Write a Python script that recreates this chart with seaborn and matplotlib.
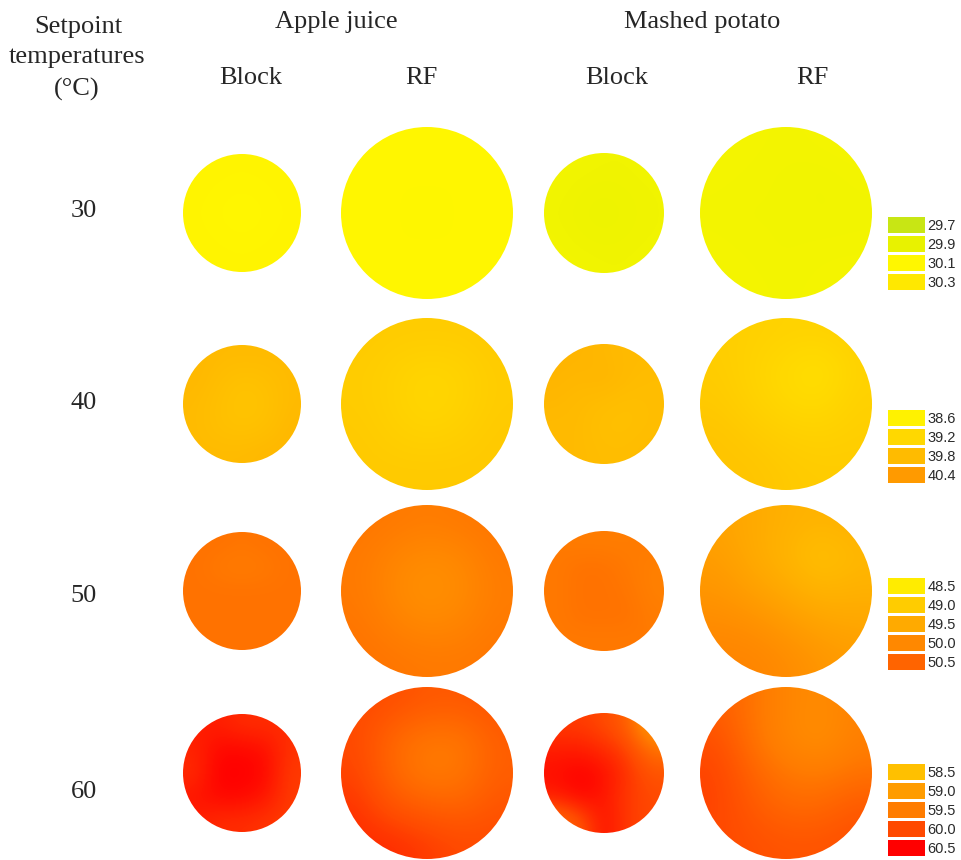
import numpy as np
import matplotlib
matplotlib.use("Agg")
import matplotlib.pyplot as plt
from matplotlib.colors import LinearSegmentedColormap
from matplotlib.patches import Circle
import seaborn as sns

# ---------------------------------------------------------------- data
setpoints = [30, 40, 50, 60]
products = ["Apple juice", "Mashed potato"]
methods = ["Block", "RF"]

# colour-bar steps (°C) for each setpoint
legend_30 = [29.7, 29.9, 30.1, 30.3]
legend_40 = [38.6, 39.2, 39.8, 40.4]
legend_50 = [48.5, 49.0, 49.5, 50.0, 50.5]
legend_60 = [58.5, 59.0, 59.5, 60.0, 60.5]

# coarse surface-temperature maps (°C), 5 x 5 samples, top row first
aj_block_30 = [[30.14, 30.14, 30.13, 30.14, 30.14],
               [30.14, 30.12, 30.11, 30.12, 30.14],
               [30.13, 30.11, 30.1, 30.11, 30.13],
               [30.14, 30.12, 30.11, 30.12, 30.14],
               [30.14, 30.14, 30.13, 30.14, 30.14]]
aj_rf_30 = [[30.11, 30.11, 30.11, 30.11, 30.11],
            [30.11, 30.1, 30.1, 30.1, 30.11],
            [30.11, 30.1, 30.1, 30.1, 30.11],
            [30.11, 30.1, 30.1, 30.1, 30.11],
            [30.11, 30.11, 30.11, 30.11, 30.11]]
mp_block_30 = [[29.99, 29.99, 29.98, 29.98, 29.99],
               [29.99, 29.97, 29.96, 29.97, 29.98],
               [29.98, 29.96, 29.95, 29.96, 29.98],
               [29.99, 29.97, 29.96, 29.97, 29.98],
               [29.99, 29.99, 29.98, 29.98, 29.99]]
mp_rf_30 = [[30.02, 30.01, 30.0, 30.01, 30.02],
            [30.01, 30.0, 29.99, 29.98, 30.0],
            [30.0, 29.99, 30.0, 29.98, 29.99],
            [30.01, 30.0, 29.99, 30.0, 30.0],
            [30.02, 30.01, 30.0, 30.01, 30.02]]

aj_block_40 = [[39.85, 39.8, 39.8, 39.8, 39.8],
               [39.85, 39.75, 39.65, 39.7, 39.8],
               [39.8, 39.7, 39.6, 39.65, 39.8],
               [39.8, 39.7, 39.65, 39.7, 39.85],
               [39.8, 39.8, 39.8, 39.85, 39.85]]
aj_rf_40 = [[39.5, 39.45, 39.45, 39.45, 39.5],
            [39.45, 39.35, 39.25, 39.3, 39.45],
            [39.45, 39.35, 39.2, 39.3, 39.45],
            [39.5, 39.4, 39.35, 39.4, 39.5],
            [39.5, 39.5, 39.5, 39.5, 39.5]]
mp_block_40 = [[39.9, 39.9, 39.85, 39.8, 39.8],
               [39.9, 39.85, 39.9, 39.8, 39.75],
               [39.85, 39.8, 39.75, 39.7, 39.75],
               [39.8, 39.8, 39.7, 39.7, 39.75],
               [39.8, 39.8, 39.75, 39.75, 39.8]]
mp_rf_40 = [[39.4, 39.35, 39.3, 39.3, 39.35],
            [39.45, 39.3, 39.15, 39.0, 39.3],
            [39.5, 39.35, 39.2, 39.15, 39.35],
            [39.6, 39.5, 39.4, 39.35, 39.4],
            [39.6, 39.6, 39.5, 39.45, 39.45]]

aj_block_50 = [[50.3, 50.3, 50.25, 50.3, 50.3],
               [50.3, 50.2, 50.15, 50.2, 50.3],
               [50.3, 50.3, 50.3, 50.3, 50.3],
               [50.3, 50.3, 50.3, 50.3, 50.3],
               [50.3, 50.3, 50.3, 50.3, 50.3]]
aj_rf_50 = [[50.25, 50.2, 50.15, 50.2, 50.25],
            [50.2, 50.05, 49.95, 50.0, 50.2],
            [50.2, 50.0, 49.85, 49.95, 50.15],
            [50.25, 50.1, 50.0, 50.05, 50.2],
            [50.3, 50.25, 50.2, 50.2, 50.25]]
mp_block_50 = [[50.2, 50.15, 50.15, 50.15, 50.2],
               [50.2, 50.3, 50.3, 50.2, 50.1],
               [50.2, 50.3, 50.3, 50.25, 50.1],
               [50.2, 50.3, 50.3, 50.3, 50.15],
               [50.2, 50.2, 50.2, 50.2, 50.2]]
mp_rf_50 = [[49.6, 49.5, 49.4, 49.35, 49.4],
            [49.7, 49.5, 49.35, 49.15, 49.3],
            [49.8, 49.65, 49.5, 49.35, 49.4],
            [49.95, 49.9, 49.75, 49.6, 49.55],
            [50.05, 50.05, 49.95, 49.8, 49.7]]

aj_block_60 = [[60.3, 60.3, 60.2, 60.2, 60.2],
               [60.25, 60.45, 60.45, 60.4, 60.15],
               [60.2, 60.5, 60.5, 60.45, 60.1],
               [60.35, 60.45, 60.45, 60.35, 60.1],
               [60.3, 60.2, 60.2, 60.15, 60.1]]
aj_rf_60 = [[60.0, 59.95, 59.85, 59.85, 59.9],
            [60.0, 59.7, 59.55, 59.55, 59.8],
            [60.05, 59.7, 59.5, 59.55, 59.8],
            [60.15, 59.9, 59.8, 59.75, 59.9],
            [60.2, 60.2, 60.1, 60.0, 60.0]]
mp_block_60 = [[60.1, 60.1, 60.0, 59.8, 59.0],
               [60.3, 60.3, 60.2, 60.05, 59.6],
               [60.4, 60.5, 60.4, 60.15, 59.9],
               [60.3, 60.45, 60.35, 60.1, 60.0],
               [59.6, 59.9, 60.4, 60.1, 60.0]]
mp_rf_60 = [[59.8, 59.6, 59.35, 59.25, 59.4],
            [59.95, 59.6, 59.35, 59.2, 59.45],
            [60.05, 59.75, 59.55, 59.5, 59.6],
            [60.05, 59.85, 59.7, 59.7, 59.85],
            [60.0, 59.95, 59.9, 59.9, 59.95]]

maps = {
    30: [aj_block_30, aj_rf_30, mp_block_30, mp_rf_30],
    40: [aj_block_40, aj_rf_40, mp_block_40, mp_rf_40],
    50: [aj_block_50, aj_rf_50, mp_block_50, mp_rf_50],
    60: [aj_block_60, aj_rf_60, mp_block_60, mp_rf_60],
}
legends = {30: legend_30, 40: legend_40, 50: legend_50, 60: legend_60}

# ---------------------------------------------------------------- style
palette = {
    30: ["#c8e614", "#e8f200", "#fff700", "#ffe800"],
    40: ["#fff200", "#ffd800", "#ffbb00", "#ff9a00"],
    50: ["#ffec00", "#ffcc00", "#ffaa00", "#ff8800", "#ff6400"],
    60: ["#ffc000", "#ff9c00", "#ff7c00", "#ff4a00", "#ff0000"],
}

sns.set_theme(style="white")
plt.rcParams["font.family"] = ["Liberation Serif", "DejaVu Serif"]

W, H, DPI = 961, 860, 100
fig = plt.figure(figsize=(W / DPI, H / DPI), dpi=DPI)
fig.patch.set_facecolor("white")
ax = fig.add_axes([0, 0, 1, 1])
ax.set_xlim(0, W)
ax.set_ylim(H, 0)
ax.axis("off")

# sample layout in pixel units: column centres and radii, row centres
col_x = [242, 427, 604, 786]
col_r = [59, 86, 60, 86]
row_y = [213, 404, 591, 773]

legend_top = [215, 408, 576, 762]
cell_h = 19

cmaps = {}
for sp in setpoints:
    vals = legends[sp]
    lo, hi = vals[0], vals[-1]
    pos = [(v - lo) / (hi - lo) for v in vals]
    cmaps[sp] = LinearSegmentedColormap.from_list(f"t{sp}", list(zip(pos, palette[sp])))

for i, sp in enumerate(setpoints):
    cmap = cmaps[sp]
    lo, hi = legends[sp][0], legends[sp][-1]
    cy = row_y[i]
    for j, grid in enumerate(maps[sp]):
        cx, r = col_x[j], col_r[j]
        im = ax.imshow(np.array(grid), cmap=cmap, vmin=lo, vmax=hi,
                       extent=(cx - r, cx + r, cy + r, cy - r),
                       interpolation="bicubic", aspect="auto", zorder=2)
        disc = Circle((cx, cy), r, transform=ax.transData, facecolor="none",
                      edgecolor="none")
        ax.add_patch(disc)
        im.set_clip_path(disc)

    # discrete colour key for this setpoint
    n = len(legends[sp])
    top = legend_top[i]
    lax = fig.add_axes([886 / W, 1 - (top + n * cell_h) / H, 40 / W, n * cell_h / H])
    key = np.array(legends[sp]).reshape(-1, 1)
    sns.heatmap(key, ax=lax, cmap=cmap, vmin=lo, vmax=hi, cbar=False,
                linewidths=1.8, linecolor="white",
                xticklabels=False, yticklabels=[f"{v:.1f}" for v in legends[sp]])
    lax.yaxis.tick_right()
    lax.tick_params(axis="y", length=0, pad=1, labelsize=10.5,
                    labelcolor="#2a2a2a", rotation=0)
    for t in lax.get_yticklabels():
        t.set_fontfamily(["Liberation Sans", "DejaVu Sans"])

# ---------------------------------------------------------------- text
fs = 19
ax.text(78, 33, "Setpoint", ha="center", va="baseline", fontsize=fs)
ax.text(77, 63, "temperatures", ha="center", va="baseline", fontsize=fs)
ax.text(77, 96, "(°C)", ha="center", va="baseline", fontsize=fs)

ax.text(336, 28, products[0], ha="center", va="baseline", fontsize=fs)
ax.text(702, 28, products[1], ha="center", va="baseline", fontsize=fs)

for x, m in zip([251, 421, 617, 812], methods * 2):
    ax.text(x, 84, m, ha="center", va="baseline", fontsize=fs)

for y, sp in zip([217, 409, 602, 798], setpoints):
    ax.text(84, y, str(sp), ha="center", va="baseline", fontsize=fs)

fig.savefig("out.png", dpi=DPI, facecolor="white")
